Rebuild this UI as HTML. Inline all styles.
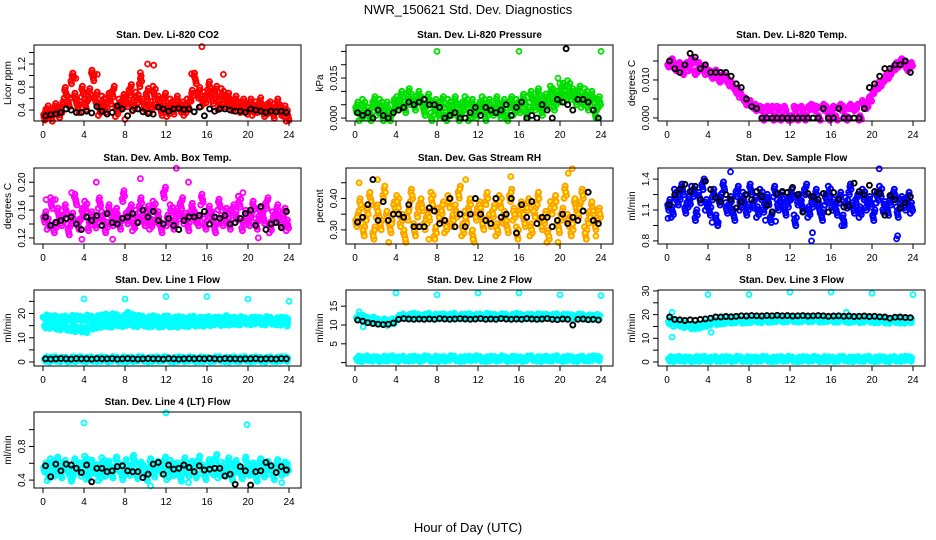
<!DOCTYPE html>
<html><head><meta charset="utf-8"><style>
html,body{margin:0;padding:0;background:#fff}
svg{display:block;font-family:"Liberation Sans",sans-serif}
</style></head><body>
<svg id="chart" width="936" height="540" viewBox="0 0 936 540">
<text x="468" y="14" text-anchor="middle" font-size="13">NWR_150621  Std. Dev. Diagnostics</text>
<text x="468" y="532" text-anchor="middle" font-size="13">Hour of Day (UTC)</text>
</svg>
<script>
const xTicks=[0,4,8,12,16,20,24];
// CO2 (ppm)
const co2Color=[.32,.38,.30,.42,.36,.45,.7,.55,.95,.6,.45,.72,.5,.68,1.0,.62,.4,.55,.45,.6,.72,.38,.5,.58,.55,.75,.48,.62,.9,.5,.68,.45,.72,.55,.4,.6,.38,.5,.42,.55,.45,.4,.5,.65,.95,.7,.55,.62,.8,.6,.72,.5,.68,.55,.6,.48,.55,.45,.5,.42,.5,.4,.45,.52,.38,.42,.45,.35,.5,.4,.38,.3];
const co2Outliers=[[3,0.98],[3.2,0.95],[5,1.02],[5.3,1.02],[9.5,1.05],[10.2,1.2],[10.8,1.18],[14.5,1.03],[15.5,1.5],[17.6,1.02],[8,0.24],[24,0.22],[0.1,0.28]];
const co2Black=[.3,.32,.33,.36,.42,.4,.36,.36,.38,.35,.46,.38,.33,.36,.47,.42,.3,.4,.42,.37,.34,.33,.45,.42,.38,.42,.43,.41,.42,.37,.45,.3,.42,.38,.42,.42,.4,.38,.38,.36,.42,.4,.38,.36,.38,.37,.38,.36];
// Pressure (thousandths kPa)
const presColor=[4,1,5,2,0,6,3,5,1,4,0,5,6,8,4,9,7,5,8,6,3,7,0,5,2,6,0,5,3,6,1,4,6,0,5,2,4,6,1,5,3,6,2,5,0,6,3,5,4,7,2,8,5,9,3,7,6,10,5,8,11,8,12,9,7,10,6,9,5,8,2,6];
const presOutliers=[[8,25],[16,25],[24,25],[19.2,11],[20,13],[19.8,15]];
const presBlack=[2,1,2,0,3,1,0,2,3,4,6,5,6,7,5,5,4,0,1,2,0,0,2,4,1,4,3,2,3,5,1,4,6,0,1,0,5,3,0,7,6,5,3,7,7,6,3,0];
// Li-820 temp (thousandths C)
const tempColor=[14,15,13,14,12,14,13,15,12,14,13,12,12,11,12,10,11,10,9,8,7,6,5,4,4,3,2.5,2.5,0,2.5,2.5,0,2.5,0,2.5,0,0,2.5,0,2.5,0,2.5,3,2.5,0,3,2.5,0,2.5,0,3,2.5,0,3,2.5,3,0,4,3,5,7,8,9,10,11,12,13,14,15,14,13,14];
const tempBlack=[15,13,12,14,17,16,13,14,12,12,12,12,11,9,8,5,3,2.5,0,0,0,0,0,0,0,0,0,0,0,0,2.5,0,0,2.5,0,0,0,0,2.5,8,9,11,13,13,14,14,15,12];
// Amb box temp (thousandths C)
const ambColor=[150,140,170,135,155,145,160,132,148,175,140,155,165,138,150,142,170,150,135,160,145,155,140,180,148,160,138,152,170,145,158,140,165,150,135,185,145,160,140,155,170,148,138,162,150,145,175,140,158,150,135,168,145,155,140,160,150,172,138,152,145,165,140,155,148,170,135,150,160,142,155,138];
const ambOutliers=[[13,220],[9.5,205],[5.2,200],[14.2,200],[3.8,118],[6.8,118],[21,120],[0.3,175],[1.2,175],[2.8,185],[19.5,185]];
const ambBlack=[150,138,142,145,148,150,140,132,150,145,152,138,155,142,140,148,150,155,142,160,150,158,145,140,148,138,132,145,150,150,152,158,140,150,148,152,140,142,148,155,160,138,165,132,140,142,135,158];
// Gas stream RH (hundredths %)
const rhColor=[33,38,30,35,40,29,36,32,42,34,31,37,39,33,28,35,41,30,36,38,32,34,40,29,35,37,31,39,33,36,42,30,34,38,28,35,37,32,40,33,36,30,39,34,31,41,35,29,37,33,38,30,36,40,32,34,28,37,39,31,35,42,33,30,38,36,41,29,34,37,32,35];
const rhOutliers=[[0.4,45],[2.2,46],[10.8,46],[15.2,47],[20.8,48],[21.2,49.5],[3.3,26],[7.2,27],[11.5,27],[19.8,26],[23.5,28]];
const rhBlack=[32.5,34,38,46,33,39,33,35,35,34,38,31,31,31,37,36,32,33,40,31,35,31,35,40,35,33,32,40,34,35,40,29,38,34,39,32,34,34,31,33,35,32,34,33,36,42,33,32];
// Sample flow (hundredths ml/min)
const sfColor=[115,108,125,120,130,112,118,128,105,122,135,115,110,125,100,120,132,112,118,105,128,115,122,110,130,117,108,125,113,120,103,128,115,122,110,118,125,100,120,114,130,108,118,125,112,105,120,128,115,110,122,100,117,130,112,120,108,125,115,118,105,122,128,113,110,120,125,108,118,115,122,112];
const sfOutliers=[[0.1,102],[6.2,147],[14.2,88],[14.1,80],[17.3,95],[22.5,85],[22.4,82],[20.7,150],[4.4,98],[5,98],[9.6,100],[10.6,99]];
const sfBlack=[115,125,130,135,128,133,120,138,130,122,118,125,120,112,118,125,120,128,123,115,108,126,128,127,132,125,108,126,123,120,126,108,127,120,113,114,136,128,125,134,128,126,105,124,120,112,117,123];
// Line 1 flow
const l1ColorA=[18.5,18,18.2,17.8,18,18.3,18.1,17.9,18.4,18,18.2,18.5,18.8,19,18.6,18.2,19.5,18.8,18.3,18,17.8,18.1,17.7,17.9,18,17.6,17.8,17.5,17.7,17.9,17.6,17.4,17.8,17.5,17.6,18.2,17.4,17.6,17.8,17.3,17.5,17.6,17.4,17.8,17.5,17.3,17.6,17.4];
const l1ColorB=[15,14.8,14.5,14.2,14,13.8,13.5,13.3,13.8,14.5,15,15.2,15.5,15.3,15.8,15.6,16,15.7,15.5,15.8,15.4,15.6,15.3,15.5,15.4,15.6,15.3,15.7,15.5,15.8,16,15.7,15.9,16.2,16,16.3,16.1,16.4,16.2,16.5,16.3,16.6,16.4,16.2,16.5,16.3,16.1,15.8];
const l1ColorC=[1.2,1,1.3,1.1,1,1.2,1.1,1.3,1,1.2,1.1,1.2,1,1.3,1.1,1.2,1,1.1,1.3,1.2,1,1.1,1.2,1.3,1.1,1,1.2,1.1,1.3,1,1.2,1.1,1,1.2,1.3,1.1,1,1.2,1.1,1.3,1,1.2,1.1,1,1.2,1.1,1.3,1.2];
const l1Outliers=[[4,26],[8,26],[12,27],[16,27],[20,26],[24,25],[4.3,12],[0,18.5]];
const l1Black=[1.3,1.2,1.3,1.4,1.3,1.2,1.4,1.3,1.3,1.2,1.4,1.3,1.3,1.4,1.2,1.3,1.4,1.3,1.2,1.3,1.4,1.3,1.3,1.2,1.4,1.3,1.2,1.3,1.4,1.3,1.4,1.3,1.5,1.3,1.2,1.4,1.3,1.3,1.2,1.3,1.3,1.4,1.2,1.3,1.3,1.2,1.4,1.3];
// Line 2 flow
const l2ColorA=[12,12,11.5,11.5,11,11,10.5,11,12,12.3,12.3,12.5,12.3,12.2,12.5,12.3,12.2,12.4,12.3,12.5,12.2,12.3,12.4,12.2,12.3,12.5,12.3,12.2,12.4,12.3,12.2,12.5,12.3,12.2,12.3,12.4,12.2,12.3,12.2,12.4,12.3,12.2,12.1,12.3,12.2,12.1,12,12.2];
const l2ColorC=[1.1,0.9,1.2,1,0.9,1.1,1,1.2,0.9,1.1,1,1.1,0.9,1.2,1,1.1,0.9,1,1.2,1.1,0.9,1,1.1,1.2,1,0.9,1.1,1,1.2,0.9,1.1,1,0.9,1.1,1.2,1,0.9,1.1,1,1.2,0.9,1.1,1,0.9,1.1,1,1.2,1.1];
const l2Outliers=[[4,18.5],[8,18],[12,18.5],[16,18.5],[20,18],[24,17.8],[0.4,13.5],[0.8,9.5]];
const l2Black=[11.3,11,10.6,10.4,10.2,10.1,10.2,10.5,11.5,11.7,11.6,11.5,11.6,11.5,11.6,11.5,11.7,11.6,11.5,11.6,11.7,11.6,11.5,11.6,11.7,11.5,11.6,11.5,11.7,11.6,11.5,11.6,11.5,11.7,11.6,11.5,11.6,11.7,11.5,11.4,11.6,11.5,10,11.5,11.6,11.4,11.5,11.3];
// Line 3 flow
const l3ColorA=[17,16,16,15.5,15,15,15.2,16,16.5,16.8,17,17.2,17.3,17.5,17.3,17.5,17.6,17.8,17.5,17.7,17.8,18,17.8,17.9,18,17.8,18,17.9,18,17.8,17.9,18,17.7,17.8,18,17.6,17.8,17.5,17.7,17.8,17.5,17.6,17.4,17.3,17.5,17.4,17.3,17.5];
const l3ColorC=[1.3,1.1,1.4,1.2,1.1,1.3,1.2,1.4,1.1,1.3,1.2,1.3,1.1,1.4,1.2,1.3,1.1,1.2,1.4,1.3,1.1,1.2,1.3,1.4,1.2,1.1,1.3,1.2,1.4,1.1,1.3,1.2,1.1,1.3,1.4,1.2,1.1,1.3,1.2,1.4,1.1,1.3,1.2,1.1,1.3,1.2,1.4,1.3];
const l3Outliers=[[4,28.5],[8,28.5],[12,29.5],[16,29.5],[20,29],[24,28.5],[0.5,10.5],[0.5,21],[4.3,12.5],[17.5,21]];
const l3Black=[19,18,17.8,17.5,17.8,17.6,18,18.2,18.5,19,19,19.2,19.1,19.3,19.5,19.4,19.6,19.5,19.4,19.6,19.5,19.7,19.5,19.6,19.4,19.5,19.6,19.4,19.5,19.6,19.5,19.3,19.4,19.5,19.3,19.4,19.2,19.3,19.4,19.2,19.3,19.1,19,18.5,18.9,19,18.8,18.7];
// Line 4 (LT) flow (hundredths)
const l4Color=[55,45,60,50,62,48,58,52,44,60,55,50,63,47,58,53,45,61,50,57,48,62,54,46,59,51,64,47,56,52,45,60,49,57,53,62,46,58,51,55,44,61,50,57,48,63,53,46,59,52,65,48,56,50,61,45,58,53,47,62,51,55,44,60,49,57,53,46,59,51,56,54];
const l4Outliers=[[4,108],[12,120],[19.9,106],[10.5,33],[23.3,37],[14.2,37],[4.2,41]];
const l4Black=[57,44,59,51,59,58,54,49,58,38,54,54,50,51,56,57,51,50,50,43,47,59,61,47,58,53,54,58,55,50,57,52,53,54,54,45,47,35,56,51,34,50,51,61,57,49,56,52];

const NS="http://www.w3.org/2000/svg";
const svg=document.getElementById('chart');
function mk(tag,attrs,parent){const e=document.createElementNS(NS,tag);for(const k in attrs)e.setAttribute(k,attrs[k]);(parent||svg).appendChild(e);return e;}

const panels=[
 {key:'co2',title:'Stan. Dev. Li-820 CO2',ylab:'Licor ppm',col:0,row:0,ymin:0.21,ymax:1.53,scale:1,ticks:[0.4,0.6,0.8,1.0,1.2,1.4],labels:{0.4:'0.4',0.8:'0.8',1.2:'1.2'},color:'#ff0000',colored:[co2Color],spread:0.07,out:co2Outliers,black:co2Black},
 {key:'pressure',title:'Stan. Dev. Li-820 Pressure',ylab:'kPa',col:1,row:0,ymin:-0.0011,ymax:0.0274,scale:0.001,ticks:[0,0.005,0.01,0.015,0.02,0.025],labels:{0:'0.000',0.015:'0.015'},color:'#00e000',colored:[presColor],spread:0.07,out:presOutliers,black:presBlack,blackOut:[[20.6,26]]},
 {key:'li820-temp',title:'Stan. Dev. Li-820 Temp.',ylab:'degrees C',col:2,row:0,ymin:-0.0008,ymax:0.0192,scale:0.001,ticks:[0,0.005,0.01,0.015],labels:{0:'0.000',0.01:'0.010'},color:'#ff00ff',colored:[tempColor],spread:0.03,out:[],black:tempBlack},
 {key:'amb-box-temp',title:'Stan. Dev. Amb. Box Temp.',ylab:'degrees C',col:0,row:1,ymin:0.1113,ymax:0.2204,scale:0.001,ticks:[0.12,0.14,0.16,0.18,0.2],labels:{0.12:'0.12',0.16:'0.16',0.2:'0.20'},color:'#ff00ff',colored:[ambColor],spread:0.07,out:ambOutliers,black:ambBlack},
 {key:'gas-rh',title:'Stan. Dev. Gas Stream RH',ylab:'percent',col:1,row:1,ymin:0.255,ymax:0.497,scale:0.01,ticks:[0.3,0.35,0.4,0.45],labels:{0.3:'0.30',0.4:'0.40'},color:'#ffa000',inner:'#ffff00',colored:[rhColor],spread:0.08,out:rhOutliers,black:rhBlack},
 {key:'sample-flow',title:'Stan. Dev. Sample Flow',ylab:'ml/min',col:2,row:1,ymin:0.77,ymax:1.508,scale:0.01,ticks:[0.8,0.95,1.1,1.25,1.4],labels:{0.8:'0.8',1.1:'1.1',1.4:'1.4'},color:'#0000ff',colored:[sfColor],spread:0.07,out:sfOutliers,black:sfBlack},
 {key:'line1-flow',title:'Stan. Dev. Line 1 Flow',ylab:'ml/min',col:0,row:2,ymin:-1.65,ymax:29.7,scale:1,ticks:[0,5,10,15,20,25],labels:{0:'0',10:'10',20:'20'},color:'#00ffff',colored:[l1ColorA,l1ColorB,l1ColorC],spread:0.03,out:l1Outliers,black:l1Black},
 {key:'line2-flow',title:'Stan. Dev. Line 2 Flow',ylab:'ml/min',col:1,row:2,ymin:-0.9,ymax:19.3,scale:1,ticks:[0,5,10,15],labels:{5:'5',10:'10',15:'15'},color:'#00ffff',colored:[l2ColorA,l2ColorC],spread:0.03,out:l2Outliers,black:l2Black},
 {key:'line3-flow',title:'Stan. Dev. Line 3 Flow',ylab:'ml/min',col:2,row:2,ymin:-1.7,ymax:30.4,scale:1,ticks:[0,5,10,15,20,25,30],labels:{0:'0',10:'10',20:'20',30:'30'},color:'#00ffff',colored:[l3ColorA,l3ColorC],spread:0.03,out:l3Outliers,black:l3Black},
 {key:'line4-flow',title:'Stan. Dev. Line 4 (LT) Flow',ylab:'ml/min',col:0,row:3,ymin:0.306,ymax:1.21,scale:0.01,ticks:[0.4,0.6,0.8,1.0],labels:{0.4:'0.4',0.8:'0.8'},color:'#00ffff',colored:[l4Color],spread:0.06,out:l4Outliers,black:l4Black}
];
const colLeft=[34,346,658], rowTop=[45,168,290,412], W=267, H=76;
const jitterX=[0,0.11,0.22,0.05,0.17], jitterY=[0,1,-1,0.5,-0.5];

panels.forEach(p=>{
  const L=colLeft[p.col], T=rowTop[p.row];
  const g=mk('g',{});
  
  
  const xs=h=>L+9+h*(246/24);
  const ys=v=>T+H-(v-p.ymin)/(p.ymax-p.ymin)*H;
  const t=mk('text',{x:L+W/2,y:T-7,'text-anchor':'middle','font-size':'10','font-weight':'bold'},g);
  t.textContent=p.title;
  
  
  const pts=mk('g',{},g);
  
  
  const dot=(x,yy,c,sw,inner)=>{
    if(yy<T-2||yy>T+H+2) return;
    const e=mk('circle',{cx:xs(x).toFixed(1),cy:yy.toFixed(1),r:2.5,fill:'none',stroke:c,'stroke-width':sw},pts);
    
    
    if(inner){const e2=mk('circle',{cx:xs(x).toFixed(1),cy:yy.toFixed(1),r:1.3,fill:inner},pts);
      
      }
  };
  const spreadPx=p.spread*H;
  p.colored.forEach(arr=>arr.forEach((v,i)=>{
    const h=(i+0.5)*24/arr.length;
    const base=ys(v*p.scale);
    for(let k=0;k<jitterX.length;k++){
      dot(h+jitterX[k]-0.1,base+jitterY[(k+i)%jitterY.length]*spreadPx,p.color,2,p.inner);
    }
  }));
  p.out.forEach(o=>dot(o[0],ys(o[1]*p.scale),p.color,1.8,p.inner));
  p.black.forEach((v,i)=>dot((i+0.5)*24/p.black.length,ys(v*p.scale),'#000',1.9));
  (p.blackOut||[]).forEach(o=>dot(o[0],ys(o[1]*p.scale),'#000',1.9));
  const box=mk('rect',{x:L,y:T,width:W,height:H,fill:'none',stroke:'#000','stroke-width':1},g);
  
  
  const xa=mk('g',{},g);
  
  
  xTicks.forEach(h=>{
    mk('line',{x1:xs(h),x2:xs(h),y1:T+H,y2:T+H+5,stroke:'#000'},xa);
    const lt=mk('text',{x:xs(h),y:T+H+17,'text-anchor':'middle','font-size':'10'},xa);
    lt.textContent=h;
  });
  const ya=mk('g',{},g);
  
  
  p.ticks.forEach(v=>{
    const y=ys(v);
    mk('line',{x1:L-5,x2:L,y1:y,y2:y,stroke:'#000'},ya);
    const key=Object.keys(p.labels).find(k=>Math.abs(parseFloat(k)-v)<1e-9);
    if(key!==undefined){
      const lt=mk('text',{x:L-9,y:y,'text-anchor':'middle','font-size':'10',transform:`rotate(-90 ${L-9} ${y})`},ya);
      lt.textContent=p.labels[key];
    }
  });
  const yt=mk('text',{x:L-23,y:T+H/2,'text-anchor':'middle','font-size':'10',transform:`rotate(-90 ${L-23} ${T+H/2})`},g);
  yt.textContent=p.ylab;
  
  
});
</script>
</body></html>
